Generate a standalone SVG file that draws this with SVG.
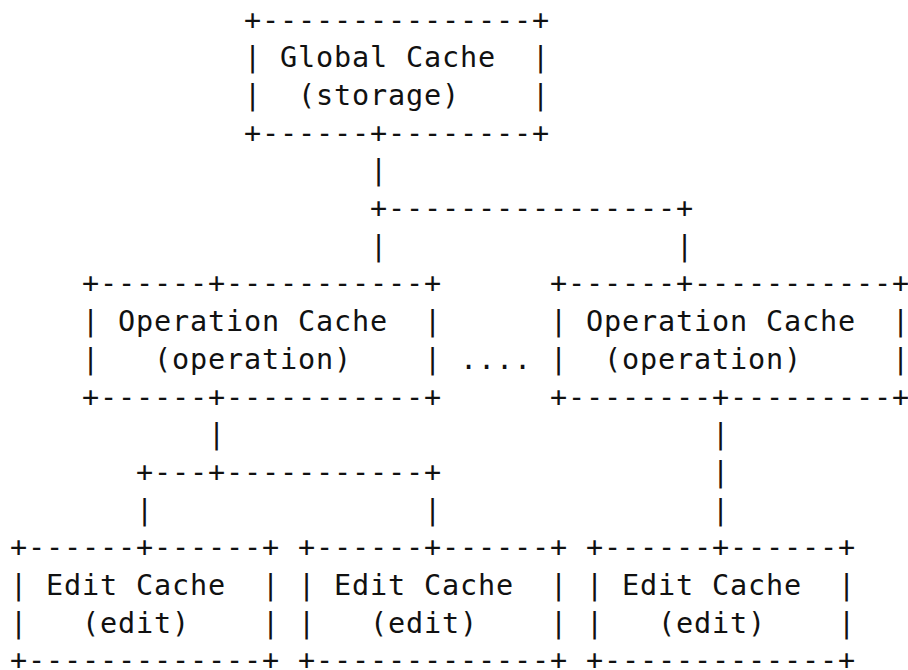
<svg xmlns="http://www.w3.org/2000/svg" width="908" height="670" viewBox="0 0 908 670">
<style>
.t { font-family: "DejaVu Sans Mono", "Liberation Mono", monospace; font-size: 28.5px; letter-spacing: 0.84px; fill: #111; }
</style>
<rect width="908" height="670" fill="#fff"/>
<g id="connectors" class="t">
<text x="370" y="180.3">|</text>
<text x="370" y="218">+----------------+</text>
<text x="370" y="255.7">|</text>
<text x="676" y="255.7">|</text>
<text x="208" y="444.2">|</text>
<text x="712" y="444.2">|</text>
<text x="136" y="481.9">+---+-----------+</text>
<text x="712" y="481.9">|</text>
<text x="136" y="519.6">|</text>
<text x="424" y="519.6">|</text>
<text x="712" y="519.6">|</text>
</g>
<g id="global-cache" class="t">
<text x="244" y="29.5">+---------------+</text>
<text x="244" y="67.2">|</text>
<text x="280" y="67.2">Global Cache</text>
<text x="532" y="67.2">|</text>
<text x="244" y="104.9">|</text>
<text x="298" y="104.9">(storage)</text>
<text x="532" y="104.9">|</text>
<text x="244" y="142.6">+------+--------+</text>
</g>
<g id="operation-cache-1" class="t">
<text x="82" y="293.4">+------+-----------+</text>
<text x="82" y="331.1">|</text>
<text x="118" y="331.1">Operation Cache</text>
<text x="424" y="331.1">|</text>
<text x="82" y="368.8">|</text>
<text x="154" y="368.8">(operation)</text>
<text x="424" y="368.8">|</text>
<text x="82" y="406.5">+------+-----------+</text>
</g>
<g id="ellipsis" class="t">
<text x="460" y="368.8">....</text>
</g>
<g id="operation-cache-2" class="t">
<text x="550" y="293.4">+------+-----------+</text>
<text x="550" y="331.1">|</text>
<text x="586" y="331.1">Operation Cache</text>
<text x="892" y="331.1">|</text>
<text x="550" y="368.8">|</text>
<text x="604" y="368.8">(operation)</text>
<text x="892" y="368.8">|</text>
<text x="550" y="406.5">+--------+---------+</text>
</g>
<g id="edit-cache-1" class="t">
<text x="10" y="557.3">+------+------+</text>
<text x="10" y="595">|</text>
<text x="46" y="595">Edit Cache</text>
<text x="262" y="595">|</text>
<text x="10" y="632.7">|</text>
<text x="82" y="632.7">(edit)</text>
<text x="262" y="632.7">|</text>
<text x="10" y="670.4">+-------------+</text>
</g>
<g id="edit-cache-2" class="t">
<text x="298" y="557.3">+------+------+</text>
<text x="298" y="595">|</text>
<text x="334" y="595">Edit Cache</text>
<text x="550" y="595">|</text>
<text x="298" y="632.7">|</text>
<text x="370" y="632.7">(edit)</text>
<text x="550" y="632.7">|</text>
<text x="298" y="670.4">+-------------+</text>
</g>
<g id="edit-cache-3" class="t">
<text x="586" y="557.3">+------+------+</text>
<text x="586" y="595">|</text>
<text x="622" y="595">Edit Cache</text>
<text x="838" y="595">|</text>
<text x="586" y="632.7">|</text>
<text x="658" y="632.7">(edit)</text>
<text x="838" y="632.7">|</text>
<text x="586" y="670.4">+-------------+</text>
</g>
</svg>
